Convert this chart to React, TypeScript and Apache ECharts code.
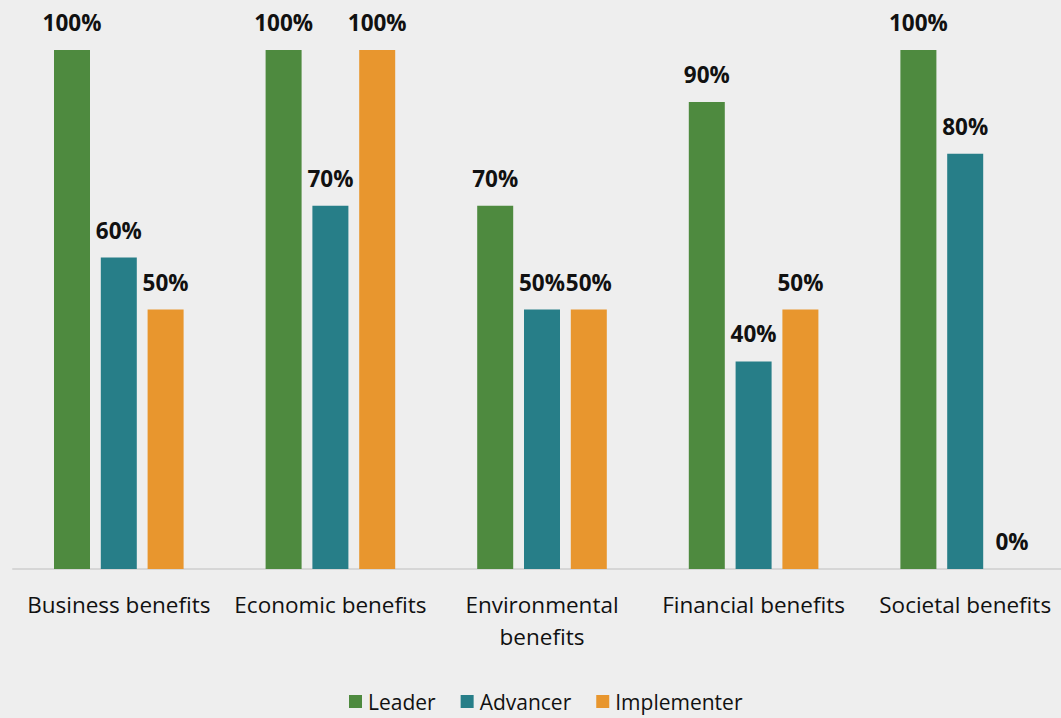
import React, { useEffect, useRef } from "react";
import * as echarts from "echarts";

const categories = ["Business benefits", "Economic benefits", "Environmental\nbenefits", "Financial benefits", "Societal benefits"];
const leader = [100, 100, 70, 90, 100];
const advancer = [60, 70, 50, 40, 80];
const implementer = [50, 100, 50, 50, 0];
const seriesNames = ["Leader", "Advancer", "Implementer"];
const colors = ["#4E8A3F", "#277E88", "#E8962E"];

export default function App() {
  const ref = useRef<HTMLDivElement>(null);
  useEffect(() => {
    document.body.style.margin = "0";
    const chart = echarts.init(ref.current!, null, { renderer: "svg" });
    const font = "'Open Sans', sans-serif";
    const label = {
      show: true,
      position: "top",
      distance: 16,
      formatter: "{c}%",
      fontWeight: "bold",
      fontSize: 22.5,
      color: "#111",
      fontFamily: font,
    };
    const datas = [leader, advancer, implementer];
    chart.setOption({
      animation: false,
      backgroundColor: "#EEEEEE",
      color: colors,
      grid: { left: 13, width: 1058, top: 50, bottom: 149, containLabel: false, outerBoundsMode: "none" },
      legend: {
        bottom: 1,
        left: 344,
        itemWidth: 13,
        itemHeight: 13,
        itemGap: 25,
        icon: "rect",
        textStyle: { fontSize: 21, color: "#111", fontFamily: font, padding: [0, 0, 0, 1] },
        data: seriesNames,
      },
      xAxis: {
        type: "category",
        data: categories,
        axisLine: { lineStyle: { color: "#D6D6D6", width: 2 } },
        axisTick: { show: false },
        axisLabel: { fontSize: 22.5, color: "#111", fontFamily: font, margin: 19, lineHeight: 32, interval: 0 },
      },
      yAxis: {
        type: "value",
        min: 0,
        max: 100,
        show: false,
        splitLine: { show: false },
      },
      series: seriesNames.map((n, i) => ({
        name: n,
        type: "bar",
        data: datas[i],
        barWidth: 36,
        barGap: "30%",
        label,
      })),
    });
    return () => chart.dispose();
  }, []);
  return <div ref={ref} style={{ position: "absolute", left: 0, top: 0, width: 1061, height: 718 }} />;
}
